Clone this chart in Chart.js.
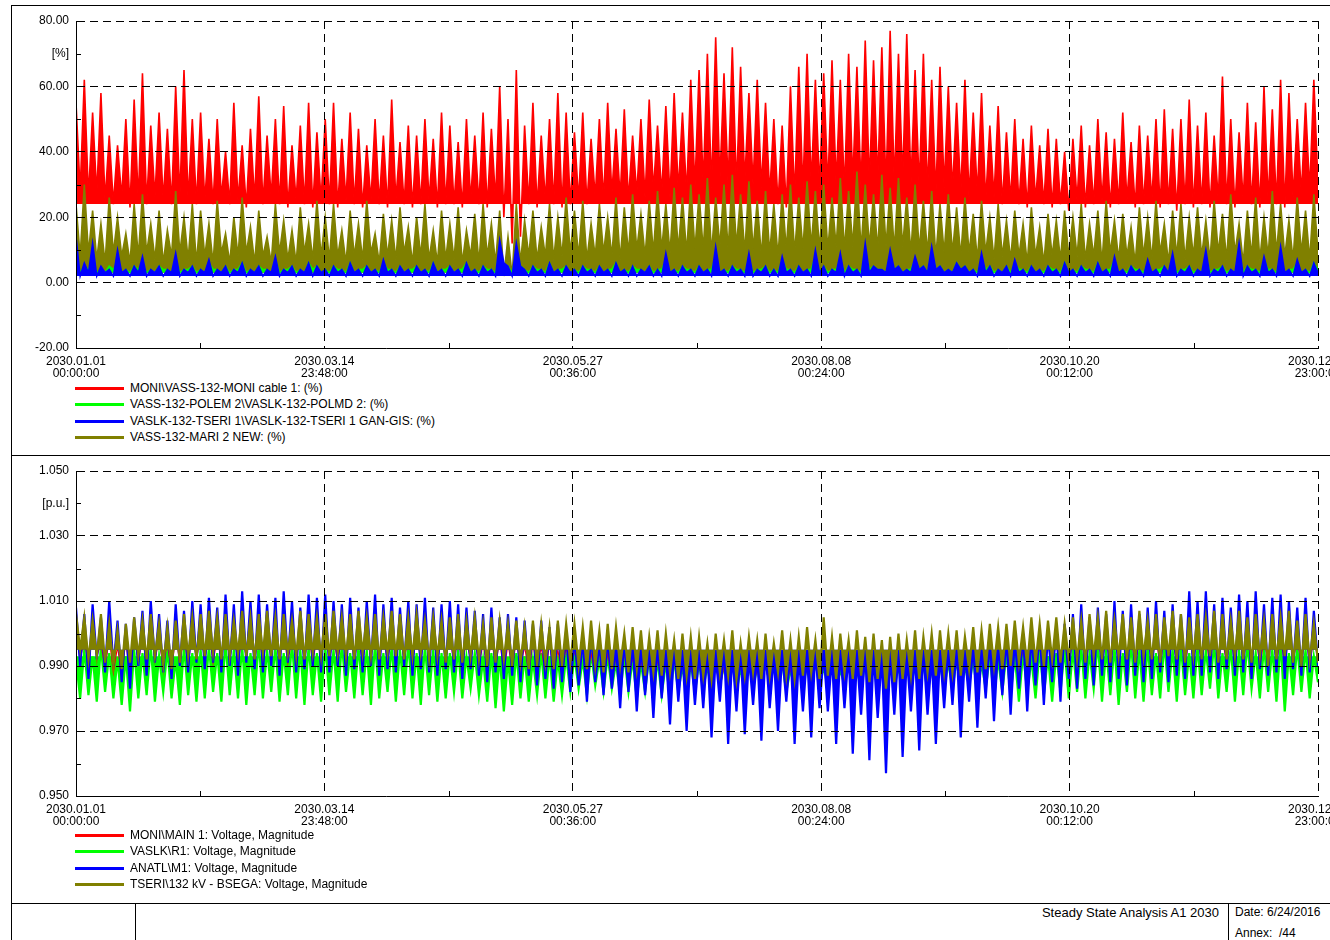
<!DOCTYPE html>
<html>
<head>
<meta charset="utf-8">
<title>Steady State Analysis A1 2030</title>
<script src="https://cdn.jsdelivr.net/npm/chart.js@4.4.1/dist/chart.umd.min.js"></script>
<style>
  html, body { margin: 0; padding: 0; background: #fff; }
  body { width: 1330px; height: 940px; position: relative; overflow: hidden;
         font-family: "Liberation Sans", Arial, sans-serif; color: #000; }
  .rule { position: absolute; background: #000; }
  canvas { position: absolute; left: 0; }
  .legend { position: absolute; left: 75px; font-size: 12px; }
  .legend div { position: relative; height: 16.4px; line-height: 16.4px; padding-left: 55px; white-space: nowrap; }
  .legend span { position: absolute; left: 0; top: 7px; width: 49px; height: 3px; }
  .foot { position: absolute; font-size: 12px; line-height: 15px; white-space: pre; }
</style>
</head>
<body>
<div class="rule" style="left:11px;top:5px;width:1319px;height:1px"></div>
<div class="rule" style="left:11px;top:5px;width:1px;height:935px"></div>
<div class="rule" style="left:11px;top:455px;width:1319px;height:1px"></div>
<div class="rule" style="left:11px;top:903px;width:1319px;height:1px"></div>
<div class="rule" style="left:135px;top:903px;width:1px;height:37px"></div>
<div class="rule" style="left:1228px;top:903px;width:1px;height:37px"></div>

<canvas id="loading" width="1330" height="380" style="top:0"></canvas>
<canvas id="voltage" width="1330" height="380" style="top:450px"></canvas>

<div class="legend" id="legendLoading" style="top:380px"></div>
<div class="legend" id="legendVoltage" style="top:827px"></div>

<div class="foot" style="right:111px;top:905px;font-size:13px">Steady State Analysis A1 2030</div>
<div class="foot" style="left:1235px;top:905px">Date: 6/24/2016</div>
<div class="foot" style="left:1235px;top:926px">Annex:  /44</div>

<script>
// One year of hourly results, sampled down: each row below is ~36 days,
// alternating daily highs and lows read off the plot.
const HOURS_IN_RUN = 8759;
const SAMPLES = 300;
const hourStamps = Array.from({ length: SAMPLES }, (_, i) => i * HOURS_IN_RUN / (SAMPLES - 1));

const xMajorHours = [0, 1751.8, 3503.6, 5255.4, 7007.2, 8759];
const xMinorHours = [875.9, 2627.7, 4379.5, 6131.3, 7883.1];
const xTickLabels = [
    ['2030.01.01', '00:00:00'],
    ['2030.03.14', '23:48:00'],
    ['2030.05.27', '00:36:00'],
    ['2030.08.08', '00:24:00'],
    ['2030.10.20', '00:12:00'],
    ['2030.12.31', '23:00:00'],
];

// --- upper panel: branch loading [%]
const loadingTicks = [-20, 0, 20, 40, 60, 80];
const loadingMinor = [-10, 10, 30, 50, 70];
const loadingUnitAt = 70;

const moniCable = [
    55,28,62,26,52,27,58,25,45,24,42,26,50,23,56,25,64,24,48,26,52,25,47,24,60,26,65,25,50,24,
    52,25,44,24,50,26,40,24,55,25,42,23,47,25,57,24,45,26,50,24,54,23,42,25,48,24,55,23,46,25,
    50,24,55,23,44,25,52,24,47,23,42,25,50,24,45,23,56,25,43,24,48,23,45,24,50,25,44,23,52,24,
    48,24,43,23,50,25,45,24,52,23,47,25,60,20,50,12,65,14,48,24,55,23,45,25,50,24,58,23,52,24,
    46,25,52,24,44,26,50,25,55,27,47,26,53,25,45,27,50,26,56,28,48,27,54,26,58,28,52,27,62,29,
    65,30,70,29,75,31,64,30,72,29,66,31,58,30,62,29,55,27,50,24,48,23,60,26,66,28,70,30,62,29,
    64,29,68,30,62,28,70,31,66,29,74,30,68,31,72,29,77,30,70,31,76,30,65,29,70,28,62,27,66,29,
    60,28,55,27,62,26,52,27,58,25,48,26,54,24,46,25,50,24,44,23,48,25,42,24,47,23,44,24,40,22,
    44,25,48,23,42,24,50,25,46,23,44,24,52,25,43,23,48,24,45,25,50,23,53,24,47,22,50,24,56,23,
    48,24,52,23,45,25,63,24,50,23,46,25,55,24,49,23,60,25,53,24,62,23,58,26,50,27,55,28,62,30,
];
const polemd = [
    8,3,5,4,7,3,4,3,5,4,6,3,4,3,5,4,6,3,4,3,5,4,4,3,7,3,4,4,5,3,
    4,3,6,4,4,3,5,3,4,4,6,3,4,3,5,4,4,3,7,3,4,4,5,3,4,3,6,4,5,3,
    4,3,5,4,4,3,6,3,4,4,5,3,4,3,6,4,4,3,5,3,4,4,5,3,4,3,6,3,4,4,
    5,3,4,4,6,3,4,3,5,4,4,3,10,5,5,3,9,5,4,3,5,4,4,3,6,3,4,4,5,3,
    4,3,5,4,4,3,5,3,4,4,6,3,4,3,5,4,4,3,5,3,4,4,7,3,4,3,5,4,4,3,
    5,3,4,4,8,3,4,3,5,4,4,3,7,3,4,4,5,3,4,3,7,4,4,3,5,3,4,4,8,3,
    5,3,4,4,7,3,5,4,4,3,9,4,5,4,4,3,8,4,5,3,4,4,7,4,5,3,9,4,5,3,
    4,3,6,4,5,3,4,3,7,4,5,3,4,3,5,3,6,4,4,3,5,3,4,3,5,4,4,3,6,3,
    4,3,5,4,4,3,6,3,4,4,7,3,4,3,5,4,4,3,6,3,4,4,5,3,7,3,4,4,5,3,
    4,3,8,3,4,4,5,3,4,3,9,3,5,4,4,3,7,4,4,3,8,3,4,4,6,3,4,3,6,4,
];
const tseriGis = [
    14,2,6,3,12,2,5,3,4,2,10,3,4,2,5,3,8,2,4,3,5,2,4,3,9,2,4,3,5,2,
    4,3,7,2,4,3,5,2,4,3,6,2,4,3,5,2,4,3,8,2,4,3,5,2,4,3,6,2,5,3,
    4,2,5,3,4,2,6,3,4,2,5,3,4,2,7,3,4,2,5,3,4,2,5,3,4,2,6,3,4,2,
    5,3,4,2,6,3,4,2,5,3,4,2,13,6,5,2,12,5,4,2,5,3,4,2,6,3,4,2,5,3,
    4,2,5,3,4,2,5,3,4,2,6,3,4,2,5,2,4,3,5,2,4,2,9,3,4,2,5,3,4,2,
    5,3,4,2,11,3,4,2,5,3,4,2,9,2,4,3,5,2,4,2,8,3,4,2,5,3,4,2,10,3,
    5,2,4,3,9,2,5,3,4,2,12,3,5,4,4,3,10,4,5,3,4,3,8,4,5,3,11,4,5,3,
    4,3,6,4,5,3,4,2,9,3,5,2,4,3,5,2,7,3,4,2,5,3,4,2,5,3,4,2,6,3,
    4,2,5,3,4,2,6,3,4,2,8,3,4,2,5,3,4,2,7,3,4,2,5,3,9,2,4,3,5,2,
    4,3,10,2,4,3,5,2,4,3,12,2,5,3,4,2,8,3,4,2,11,3,4,2,7,3,4,2,6,3,
];
const mariNew = [
    24,8,30,9,22,7,18,6,26,9,20,8,15,6,24,8,27,9,18,7,22,6,16,8,28,9,20,7,24,6,
    22,8,18,6,25,9,15,6,20,8,26,9,17,6,22,8,14,6,24,9,19,7,16,6,23,9,18,7,25,8,
    20,7,24,8,16,6,22,8,18,7,25,9,15,6,21,8,19,7,23,9,17,6,20,8,24,7,16,6,22,7,
    18,7,23,6,16,8,21,6,24,8,18,6,22,2,14,2,24,6,19,8,22,7,17,8,24,7,20,8,26,9,
    22,8,25,7,18,8,24,9,20,8,26,7,23,9,27,10,21,8,25,9,28,10,24,9,29,10,26,9,30,10,
    27,10,32,9,26,11,30,10,33,11,27,9,31,10,25,8,28,9,24,8,27,10,30,9,26,10,31,11,28,10,
    30,10,26,11,32,10,28,11,34,10,30,11,27,10,33,11,29,10,32,11,26,9,30,10,25,9,28,8,24,9,
    27,9,23,8,26,9,21,7,25,9,20,7,24,8,19,7,22,8,18,6,23,8,17,6,21,8,19,7,22,8,
    20,8,24,7,18,8,22,6,25,9,19,7,21,8,17,6,23,8,20,7,25,9,18,6,22,8,24,7,20,8,
    23,8,19,7,25,9,21,7,27,9,18,6,22,8,26,7,20,8,28,9,24,8,19,7,26,9,22,7,27,9,
];

// --- lower panel: busbar voltage [p.u.]
const voltageTicks = [0.95, 0.97, 0.99, 1.01, 1.03, 1.05];
const voltageMinor = [0.96, 0.98, 1.00, 1.02, 1.04];
const voltageUnitAt = 1.04;

const moniMain = [
    1.000,0.992,0.998,0.990,1.001,0.993,0.997,0.989,0.999,0.988,0.996,0.987,0.998,0.986,1.000,0.991,0.999,0.990,1.001,0.992,0.998,0.990,0.997,0.988,1.000,0.991,0.999,0.990,1.001,0.992,
    1.000,0.992,1.001,0.991,0.999,0.993,1.001,0.992,1.000,0.991,0.999,0.993,1.001,0.992,1.000,0.991,0.999,0.993,1.001,0.992,1.000,0.991,0.999,0.993,1.001,0.992,1.000,0.991,0.999,0.992,
    1.001,0.992,0.999,0.991,1.000,0.993,1.001,0.992,0.999,0.991,1.000,0.993,1.001,0.992,0.999,0.991,1.000,0.993,1.001,0.992,0.999,0.991,1.000,0.992,1.001,0.993,0.999,0.991,1.000,0.992,
    0.999,0.991,1.000,0.990,0.998,0.992,0.999,0.990,0.997,0.989,0.999,0.990,0.998,0.988,0.997,0.989,0.998,0.990,0.996,0.988,0.997,0.989,0.996,0.987,0.997,0.988,0.995,0.987,0.996,0.988,
    0.995,0.987,0.996,0.986,0.994,0.987,0.995,0.986,0.994,0.985,0.993,0.986,0.994,0.985,0.993,0.984,0.992,0.985,0.993,0.984,0.992,0.985,0.991,0.984,0.992,0.985,0.991,0.984,0.990,0.985,
    0.991,0.984,0.990,0.985,0.991,0.983,0.990,0.984,0.991,0.985,0.990,0.983,0.991,0.984,0.989,0.985,0.990,0.984,0.991,0.983,0.990,0.985,0.989,0.984,0.991,0.983,0.990,0.984,0.991,0.985,
    0.990,0.984,0.991,0.983,0.990,0.985,0.989,0.983,0.990,0.984,0.991,0.982,0.990,0.984,0.989,0.981,0.990,0.983,0.991,0.984,0.990,0.983,0.991,0.985,0.992,0.984,0.991,0.985,0.992,0.986,
    0.992,0.986,0.993,0.985,0.992,0.987,0.994,0.986,0.993,0.987,0.995,0.988,0.994,0.987,0.995,0.988,0.996,0.989,0.995,0.988,0.997,0.990,0.996,0.989,0.997,0.990,0.998,0.991,0.997,0.990,
    0.999,0.991,1.000,0.990,0.998,0.992,1.000,0.991,0.999,0.990,1.001,0.992,0.999,0.991,1.000,0.990,0.998,0.992,1.001,0.991,0.999,0.990,1.000,0.992,0.998,0.991,1.001,0.990,0.999,0.992,
    1.000,0.991,0.999,0.990,1.001,0.992,0.998,0.991,1.000,0.990,1.001,0.992,0.999,0.991,1.000,0.990,0.998,0.992,1.001,0.991,0.999,0.990,1.000,0.992,0.998,0.991,1.001,0.990,0.999,0.992,
];
const vaslkR1 = [
    0.992,0.980,0.995,0.981,0.993,0.979,0.996,0.982,0.994,0.980,0.992,0.978,0.993,0.976,0.995,0.980,0.994,0.981,0.996,0.979,0.993,0.982,0.995,0.980,0.992,0.978,0.996,0.981,0.994,0.979,
    0.995,0.980,0.996,0.982,0.994,0.979,0.997,0.981,0.995,0.980,0.996,0.978,0.994,0.981,0.997,0.980,0.995,0.982,0.996,0.979,0.994,0.981,0.997,0.980,0.995,0.978,0.996,0.981,0.994,0.979,
    0.996,0.981,0.995,0.979,0.997,0.982,0.994,0.980,0.996,0.981,0.995,0.978,0.997,0.980,0.994,0.982,0.996,0.979,0.995,0.981,0.997,0.980,0.994,0.978,0.996,0.981,0.995,0.979,0.994,0.980,
    0.994,0.982,0.995,0.980,0.993,0.983,0.994,0.981,0.992,0.979,0.994,0.977,0.993,0.976,0.992,0.978,0.994,0.980,0.993,0.979,0.992,0.981,0.994,0.980,0.993,0.979,0.992,0.981,0.993,0.982,
    0.993,0.983,0.992,0.981,0.994,0.984,0.992,0.982,0.993,0.983,0.991,0.981,0.993,0.982,0.992,0.980,0.991,0.982,0.993,0.979,0.992,0.981,0.991,0.980,0.992,0.982,0.990,0.981,0.991,0.982,
    0.991,0.983,0.990,0.982,0.992,0.984,0.990,0.983,0.991,0.982,0.989,0.984,0.991,0.983,0.990,0.982,0.992,0.984,0.990,0.983,0.991,0.982,0.989,0.983,0.991,0.984,0.990,0.982,0.992,0.983,
    0.990,0.983,0.991,0.982,0.989,0.984,0.991,0.983,0.990,0.982,0.992,0.984,0.990,0.983,0.989,0.981,0.991,0.983,0.990,0.982,0.992,0.984,0.990,0.983,0.991,0.982,0.989,0.984,0.991,0.983,
    0.991,0.983,0.992,0.982,0.990,0.984,0.992,0.981,0.991,0.983,0.993,0.980,0.992,0.982,0.994,0.981,0.993,0.979,0.994,0.982,0.992,0.980,0.995,0.981,0.993,0.979,0.994,0.982,0.995,0.980,
    0.995,0.982,0.996,0.980,0.994,0.983,0.997,0.979,0.995,0.981,0.996,0.978,0.994,0.982,0.997,0.980,0.995,0.979,0.996,0.981,0.994,0.980,0.997,0.982,0.995,0.979,0.996,0.981,0.994,0.980,
    0.996,0.981,0.995,0.983,0.997,0.980,0.994,0.982,0.996,0.979,0.995,0.981,0.997,0.983,0.994,0.980,0.996,0.982,0.995,0.979,0.997,0.976,0.994,0.981,0.996,0.982,0.995,0.980,0.993,0.985,
];
const anatlM1 = [
    1.008,0.990,1.006,0.986,1.009,0.992,1.005,0.988,1.010,0.990,1.004,0.985,1.003,0.983,1.005,0.990,1.007,0.987,1.010,0.991,1.006,0.988,1.004,0.986,1.009,0.990,1.007,0.988,1.010,0.991,
    1.009,0.989,1.011,0.991,1.008,0.988,1.012,0.990,1.009,0.987,1.013,0.991,1.010,0.989,1.012,0.988,1.009,0.990,1.011,0.987,1.013,0.991,1.010,0.988,1.008,0.989,1.012,0.990,1.011,0.988,
    1.012,0.988,1.010,0.990,1.009,0.987,1.011,0.989,1.008,0.988,1.010,0.990,1.012,0.987,1.009,0.989,1.011,0.988,1.008,0.990,1.010,0.987,1.009,0.989,1.011,0.988,1.008,0.987,1.009,0.989,
    1.010,0.988,1.009,0.986,1.008,0.989,1.007,0.987,1.006,0.985,1.008,0.988,1.005,0.986,1.006,0.987,1.005,0.985,1.004,0.987,1.003,0.984,1.004,0.986,1.002,0.983,1.003,0.985,1.001,0.982,
    0.999,0.984,0.998,0.979,1.000,0.985,0.997,0.981,0.999,0.983,0.996,0.977,0.998,0.982,0.997,0.976,0.996,0.981,0.995,0.974,0.997,0.980,0.995,0.972,0.996,0.979,0.994,0.970,0.995,0.978,
    0.994,0.977,0.995,0.968,0.993,0.979,0.996,0.966,0.994,0.976,0.995,0.969,0.993,0.978,0.994,0.967,0.995,0.977,0.993,0.970,0.994,0.979,0.995,0.966,0.993,0.976,0.994,0.968,0.995,0.977,
    0.994,0.976,0.993,0.966,0.995,0.977,0.994,0.963,0.993,0.975,0.995,0.961,0.994,0.974,0.993,0.957,0.994,0.975,0.995,0.962,0.993,0.976,0.994,0.964,0.995,0.975,0.993,0.966,0.994,0.977,
    0.995,0.978,0.996,0.968,0.994,0.979,0.997,0.971,0.996,0.980,0.998,0.973,0.997,0.981,0.999,0.975,0.998,0.983,1.000,0.976,0.999,0.984,1.001,0.978,1.000,0.985,1.002,0.979,1.003,0.986,
    1.006,0.983,1.009,0.986,1.005,0.984,1.008,0.987,1.006,0.985,1.010,0.986,1.007,0.984,1.009,0.987,1.006,0.985,1.008,0.986,1.010,0.988,1.007,0.985,1.009,0.987,1.006,0.986,1.013,0.987,
    1.010,0.987,1.013,0.988,1.009,0.986,1.011,0.989,1.008,0.987,1.012,0.988,1.010,0.986,1.013,0.989,1.009,0.987,1.011,0.988,1.012,0.986,1.010,0.989,1.008,0.987,1.011,0.988,1.007,0.990,
];
const tseriBsega = [
    1.006,0.995,1.005,0.992,1.004,0.993,1.006,0.991,1.003,0.990,1.001,0.989,1.003,0.991,1.005,0.993,1.004,0.992,1.006,0.993,1.003,0.990,1.002,0.989,1.004,0.991,1.006,0.993,1.005,0.992,
    1.006,0.993,1.007,0.994,1.005,0.992,1.006,0.993,1.004,0.994,1.007,0.993,1.005,0.992,1.006,0.994,1.007,0.993,1.005,0.992,1.006,0.994,1.004,0.993,1.007,0.992,1.006,0.994,1.005,0.993,
    1.006,0.993,1.007,0.994,1.005,0.993,1.006,0.992,1.007,0.994,1.005,0.993,1.006,0.992,1.005,0.994,1.007,0.993,1.006,0.992,1.005,0.993,1.006,0.994,1.004,0.992,1.005,0.993,1.004,0.991,
    1.005,0.992,1.006,0.991,1.004,0.993,1.005,0.992,1.003,0.990,1.005,0.991,1.004,0.992,1.003,0.990,1.004,0.991,1.002,0.989,1.004,0.990,1.003,0.991,1.002,0.989,1.004,0.990,1.003,0.991,
    1.003,0.990,1.002,0.989,1.004,0.990,1.001,0.988,1.003,0.989,1.002,0.990,1.000,0.988,1.002,0.989,1.001,0.987,0.999,0.988,1.001,0.987,1.000,0.988,0.998,0.986,1.000,0.987,0.999,0.986,
    0.999,0.987,0.997,0.986,1.000,0.988,0.998,0.987,1.001,0.986,0.997,0.987,0.999,0.988,0.998,0.986,1.000,0.987,0.997,0.988,1.001,0.987,0.998,0.986,0.999,0.987,1.002,0.988,0.998,0.986,
    1.005,0.987,0.999,0.986,1.000,0.988,0.998,0.986,1.001,0.987,0.999,0.985,1.000,0.986,0.998,0.983,0.999,0.985,1.000,0.986,0.998,0.987,1.001,0.986,0.999,0.988,1.000,0.987,1.001,0.988,
    1.000,0.988,1.001,0.987,0.999,0.989,1.002,0.988,1.001,0.989,1.003,0.990,1.002,0.989,1.003,0.990,1.004,0.991,1.002,0.990,1.005,0.991,1.003,0.990,1.004,0.992,1.005,0.991,1.003,0.992,
    1.005,0.992,1.004,0.991,1.006,0.993,1.005,0.992,1.007,0.991,1.004,0.993,1.006,0.992,1.005,0.991,1.007,0.993,1.004,0.992,1.006,0.991,1.005,0.993,1.007,0.992,1.006,0.991,1.005,0.993,
    1.006,0.992,1.005,0.993,1.007,0.991,1.006,0.992,1.004,0.993,1.007,0.992,1.005,0.991,1.006,0.993,1.004,0.990,1.006,0.992,1.005,0.993,1.007,0.991,1.004,0.990,1.006,0.992,1.003,0.991,
];

// fillTo: level the dense hourly trace is shaded against, so the
// solid body of each band reads like the original plot (null = bare line)
const loadingSeries = [
    { label: 'MONI\\VASS-132-MONI cable 1: (%)', data: moniCable, color: '#ff0000', order: 3, fillTo: 24 },
    { label: 'VASS-132-POLEM 2\\VASLK-132-POLMD 2: (%)', data: polemd, color: '#00ff00', order: 1, fillTo: 3 },
    { label: 'VASLK-132-TSERI 1\\VASLK-132-TSERI 1 GAN-GIS: (%)', data: tseriGis, color: '#0000ff', order: 0, fillTo: 2 },
    { label: 'VASS-132-MARI 2 NEW: (%)', data: mariNew, color: '#808000', order: 2, fillTo: 3 },
];
const voltageSeries = [
    { label: 'MONI\\MAIN 1: Voltage, Magnitude', data: moniMain, color: '#ff0000', order: 2, fillTo: null, width: 1.2 },
    { label: 'VASLK\\R1: Voltage, Magnitude', data: vaslkR1, color: '#00ff00', order: 3, fillTo: 0.993 },
    { label: 'ANATL\\M1: Voltage, Magnitude', data: anatlM1, color: '#0000ff', order: 1, fillTo: 0.995 },
    { label: 'TSERI\\132 kV - BSEGA: Voltage, Magnitude', data: tseriBsega, color: '#808000', order: 0, fillTo: 0.995 },
];

Chart.defaults.font.family = '"Liberation Sans", Arial, sans-serif';
Chart.defaults.font.size = 12;
Chart.defaults.color = '#000';

// small inward tick marks at the unlabelled divisions
const minorTicks = {
    id: 'minorTicks',
    afterDraw(chart, args, opts) {
        const { ctx, chartArea: a, scales: { x, y } } = chart;
        ctx.save();
        ctx.strokeStyle = '#000';
        ctx.lineWidth = 1;
        ctx.beginPath();
        opts.yValues.forEach(v => {
            const py = Math.round(y.getPixelForValue(v)) + 0.5;
            ctx.moveTo(a.left, py);
            ctx.lineTo(a.left + 5, py);
        });
        opts.xValues.forEach(v => {
            const px = Math.round(x.getPixelForValue(v)) + 0.5;
            ctx.moveTo(px, a.bottom);
            ctx.lineTo(px, a.bottom - 5);
        });
        ctx.stroke();
        ctx.restore();
    },
};

function panel(canvas, { series, ticks, minor, unitAt, unit, xHeight, lineWidth }) {
    const yMin = ticks[0];
    const yMax = ticks[ticks.length - 1];
    return new Chart(canvas, {
        type: 'line',
        data: {
            labels: hourStamps,
            datasets: series.map(s => ({
                label: s.label,
                data: s.data,
                order: s.order,
                borderColor: s.color,
                backgroundColor: s.color,
                borderWidth: s.width || lineWidth,
                pointRadius: 0,
                tension: 0,
                fill: s.fillTo === null ? false : { value: s.fillTo },
            })),
        },
        options: {
            responsive: false,
            animation: false,
            events: [],
            layout: { padding: { top: 21, right: 12, left: 0, bottom: 0 } },
            plugins: {
                legend: { display: false },
                tooltip: { enabled: false },
                filler: { propagate: false },
                minorTicks: { xValues: xMinorHours, yValues: minor },
            },
            scales: {
                x: {
                    type: 'linear',
                    min: 0,
                    max: HOURS_IN_RUN,
                    afterBuildTicks: s => { s.ticks = xMajorHours.map(v => ({ value: v })); },
                    afterFit: s => { s.height = xHeight; s.paddingLeft = 0; s.paddingRight = 0; },
                    ticks: {
                        autoSkip: false,
                        maxRotation: 0,
                        minRotation: 0,
                        padding: 7,
                        font: { size: 12, lineHeight: 1.05 },
                        callback: (v, i) => xTickLabels[i],
                    },
                    grid: {
                        z: 1,
                        drawTicks: false,
                        lineWidth: 1,
                        color: c => (c.index === 0 ? 'rgba(0,0,0,0)' : '#000'),
                    },
                    border: { z: 1, color: '#000', width: 1, dash: [8, 5] },
                },
                y: {
                    min: yMin,
                    max: yMax,
                    afterBuildTicks: s => { s.ticks = ticks.concat([unitAt]).map(v => ({ value: v })); },
                    afterFit: s => { s.width = 76; },
                    ticks: {
                        padding: 7,
                        callback: v => (v === unitAt ? unit : (unit === '[%]' ? v.toFixed(2) : v.toFixed(3))),
                    },
                    grid: {
                        z: 1,
                        drawTicks: false,
                        lineWidth: 1,
                        color: c => (c.tick && (c.tick.value === yMin || c.tick.value === unitAt) ? 'rgba(0,0,0,0)' : '#000'),
                    },
                    border: { z: 1, color: '#000', width: 1, dash: [8, 5] },
                },
            },
        },
        plugins: [minorTicks],
    });
}

function legend(el, series) {
    el.innerHTML = series.map(s =>
        `<div><span style="background:${s.color}"></span>${s.label.replace(/&/g, '&amp;').replace(/</g, '&lt;')}</div>`
    ).join('');
}

panel(document.getElementById('loading'), {
    series: loadingSeries, ticks: loadingTicks, minor: loadingMinor, unitAt: loadingUnitAt,
    unit: '[%]', xHeight: 32, lineWidth: 1.6,
});
panel(document.getElementById('voltage'), {
    series: voltageSeries, ticks: voltageTicks, minor: voltageMinor, unitAt: voltageUnitAt,
    unit: '[p.u.]', xHeight: 34, lineWidth: 2.2,
});
legend(document.getElementById('legendLoading'), loadingSeries);
legend(document.getElementById('legendVoltage'), voltageSeries);
</script>
</body>
</html>
